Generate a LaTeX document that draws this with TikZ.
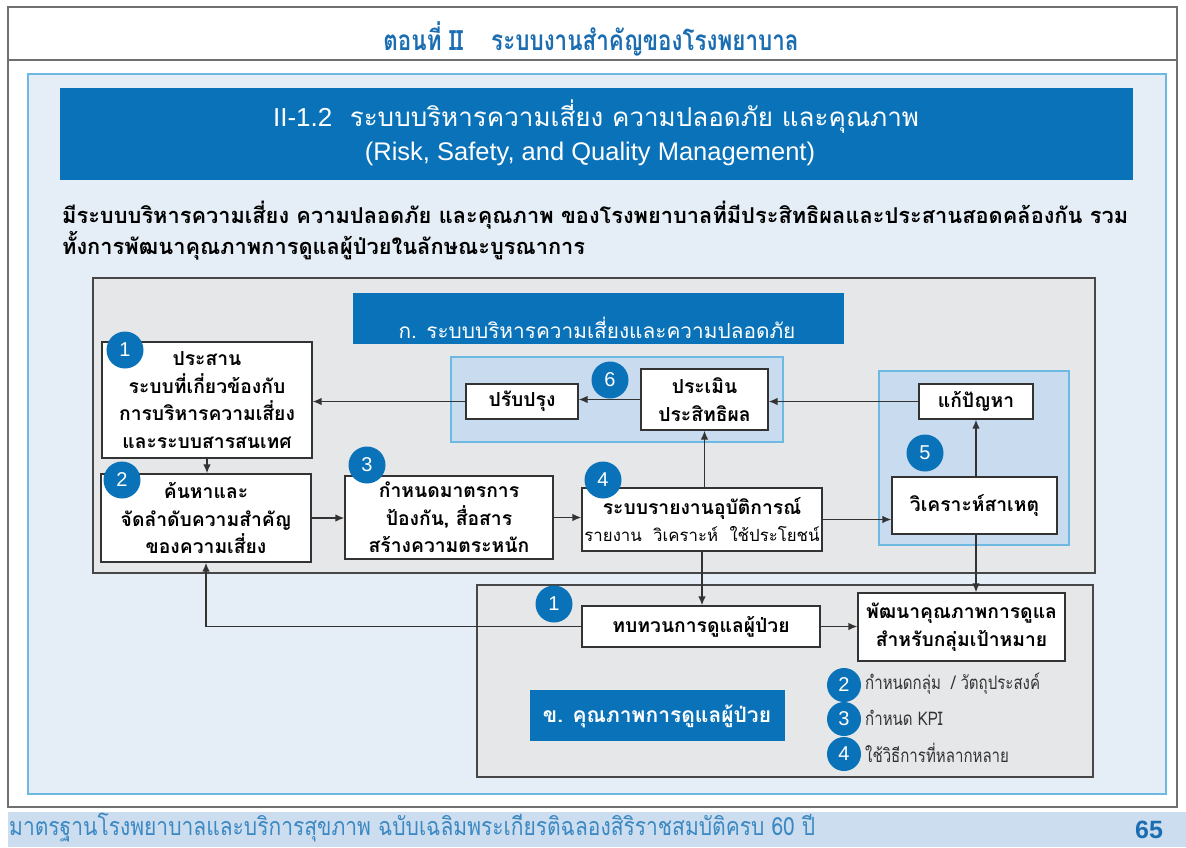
\documentclass[tikz,border=0pt]{standalone}
\usepackage{fontspec}
\setmainfont{Liberation Sans}
\newfontfamily\thai[Script=Thai]{Loma}
\newfontfamily\thaic[Script=Thai,FakeStretch=0.8]{Loma}
\newfontfamily\thaif[Script=Thai,FakeStretch=0.84]{Loma}
\usetikzlibrary{arrows.meta}
\definecolor{cblue}{HTML}{0A72B8}
\definecolor{panel}{HTML}{E5EEF7}
\definecolor{panelb}{HTML}{6DB9E2}
\definecolor{grayp}{HTML}{E6E7E9}
\definecolor{grpb}{HTML}{C9DBEF}
\definecolor{footb}{HTML}{CCDDEF}
\definecolor{hdr}{HTML}{1A6DB1}
\definecolor{ftxt}{HTML}{3B88C2}
\definecolor{ln}{HTML}{333333}
\begin{document}
\begin{tikzpicture}[x=1pt,y=-1pt,
  box/.style={draw=ln, line width=1.3pt, fill=white, inner sep=0pt, align=center,
    font=\thai\bfseries\fontsize{19.3}{27.5}\selectfont},
  num/.style={circle, fill=cblue, text=white, minimum size=37pt, inner sep=0pt,
    font=\fontsize{20}{20}\selectfont},
  smallnum/.style={num, minimum size=34pt},
  arr/.style={draw=ln, line width=1.4pt, -{Latex[length=9pt,width=7.5pt]}},
  graypanel/.style={draw=ln!90, line width=1.3pt, fill=grayp, inner sep=0pt},
  grp/.style={draw=panelb, line width=1.2pt, fill=grpb, inner sep=0pt},
  bluelabel/.style={fill=cblue, inner sep=0pt},
  wtext/.style={text=white, inner sep=0pt},
  itemtext/.style={anchor=west, inner sep=0pt, font=\thaic\fontsize{18.8}{20}\selectfont, text=ln}
]
\useasboundingbox (0,0) rectangle (1186,847);
% page frame
\node[draw=ln!70, line width=1.3pt, fill=white, minimum width=1169pt, minimum height=800pt, inner sep=0pt] (frame) at (592.5,407) {};
\coordinate (hl) at (8,60);
\coordinate (hr) at (1177,60);
\draw[ln!70, line width=1.3pt] (hl) -- (hr);
\node[text=hdr, inner sep=0pt, font=\thaic\bfseries\fontsize{28}{28}\selectfont] (header) at (591,39) {ตอนที่ II\quad ระบบงานสำคัญของโรงพยาบาล};
% light blue panel
\node[draw=panelb, line width=1.2pt, fill=panel, minimum width=1138pt, minimum height=720pt, inner sep=0pt] (panel) at (597,434) {};
% title
\node[bluelabel, minimum width=1073pt, minimum height=92pt] (title) at (596.5,134) {};
\node[wtext, font=\thai\fontsize{26}{26}\selectfont] (t1) at (596,117) {{\fontspec{Liberation Sans}II-1.2}\ \ ระบบบริหารความเสี่ยง ความปลอดภัย และคุณภาพ};
\node[wtext, font=\fontsize{25.5}{25.5}\selectfont] (t2) at (590,154) {(Risk, Safety, and Quality Management)};
% paragraph
\node[anchor=west, inner sep=0pt, font=\thai\bfseries\fontsize{21.8}{21.8}\selectfont, text=black] (p1) at (62,215) {มีระบบบริหารความเสี่ยง ความปลอดภัย และคุณภาพ ของโรงพยาบาลที่มีประสิทธิผลและประสานสอดคล้องกัน รวม};
\node[anchor=west, inner sep=0pt, font=\thai\bfseries\fontsize{21.8}{21.8}\selectfont, text=black] (p2) at (62,246) {ทั้งการพัฒนาคุณภาพการดูแลผู้ป่วยในลักษณะบูรณาการ};
% gray panel A
\node[graypanel, minimum width=1002pt, minimum height=295pt] (pa) at (594,425.5) {};
\node[bluelabel, minimum width=491pt, minimum height=51pt] (la) at (598.5,318.5) {};
\node[wtext, font=\thai\fontsize{20.8}{20.8}\selectfont] (lat) at (597,328) {ก. ระบบบริหารความเสี่ยงและความปลอดภัย};
% groups
\node[grp, minimum width=332pt, minimum height=85pt] (g6) at (617,399.5) {};
\node[grp, minimum width=190pt, minimum height=174pt] (g5) at (974,458) {};
% boxes
\node[box, minimum width=210pt, minimum height=116pt] (b1) at (207,400) {ประสาน\\ระบบที่เกี่ยวข้องกับ\\การบริหารความเสี่ยง\\และระบบสารสนเทศ};
\node[box, minimum width=210pt, minimum height=88pt] (b2) at (206,518) {ค้นหาและ\\จัดลำดับความสำคัญ\\ของความเสี่ยง};
\node[box, minimum width=208pt, minimum height=83pt] (b3) at (449,517.5) {กำหนดมาตรการ\\ป้องกัน, สื่อสาร\\สร้างความตระหนัก};
\node[box, minimum width=240pt, minimum height=63pt] (b4) at (702,519.5) {ระบบรายงานอุบัติการณ์\\{\mdseries\fontsize{16.8}{20}\selectfont รายงาน\ \ วิเคราะห์\ \ ใช้ประโยชน์}};
\node[box, minimum width=112pt, minimum height=35pt] (bimp) at (522,401.5) {ปรับปรุง};
\node[box, minimum width=127pt, minimum height=61pt] (beval) at (704.5,399.5) {ประเมิน\\ประสิทธิผล};
\node[box, minimum width=114pt, minimum height=35pt] (bfix) at (976,401.5) {แก้ปัญหา};
\node[box, minimum width=165pt, minimum height=57pt] (bcause) at (974.5,505.5) {วิเคราะห์สาเหตุ};
% gray panel B
\node[graypanel, minimum width=616pt, minimum height=192pt] (pb) at (785,681) {};
\node[box, minimum width=238pt, minimum height=41pt] (brev) at (701,626.5) {ทบทวนการดูแลผู้ป่วย};
\node[box, minimum width=207pt, minimum height=68pt] (bdev) at (961.5,627) {พัฒนาคุณภาพการดูแล\\สำหรับกลุ่มเป้าหมาย};
\node[bluelabel, minimum width=255pt, minimum height=51pt] (lb) at (657,715) {};
\node[wtext, font=\thai\bfseries\fontsize{21}{21}\selectfont] (lbt) at (657,716) {ข. คุณภาพการดูแลผู้ป่วย};
% numbers
\node[num] (n1) at (125,350) {1};
\node[num] (n2) at (122,480) {2};
\node[num] (n3) at (367,465) {3};
\node[num] (n4) at (603,480) {4};
\node[num] (n5) at (925,453) {5};
\node[num] (n6) at (610,380) {6};
\node[num] (m1) at (554,604) {1};
\node[smallnum] (m2) at (844,685) {2};
\node[smallnum] (m3) at (844,719) {3};
\node[smallnum] (m4) at (844,754) {4};
\node[itemtext] (i2) at (865,684) {กำหนดกลุ่ม\ \ / วัตถุประสงค์};
\node[itemtext] (i3) at (865,718) {กำหนด KPI};
\node[itemtext] (i4) at (865,753) {ใช้วิธีการที่หลากหลาย};
% arrows
\draw[arr] (bimp.west) -- (bimp.west -| b1.east);
\draw[arr] (beval.west) -- (beval.west -| bimp.east);
\draw[arr] (bfix.west) -- (bfix.west -| beval.east);
\draw[arr] (b1.south) -- (b1.south |- b2.north);
\draw[arr] (b2.east) -- (b2.east -| b3.west);
\draw[arr] (b3.east) -- (b3.east -| b4.west);
\draw[arr] (beval.south |- b4.north) -- (beval.south);
\draw[arr] (b4.east) -- (b4.east -| bcause.west);
\draw[arr] (bfix.south |- bcause.north) -- (bfix.south);
\draw[arr] (b4.south) -- (b4.south |- brev.north);
\draw[arr] (bfix.south |- bcause.south) -- (bfix.south |- bdev.north);
\draw[arr] (brev.west) -| (b2.south);
\draw[arr] (brev.east) -- (brev.east -| bdev.west);
% footer
\node[fill=footb, minimum width=1178pt, minimum height=35pt, inner sep=0pt] (foot) at (597,829.5) {};
\node[anchor=west, inner sep=0pt, text=ftxt, font=\thaif\fontsize{25}{25}\selectfont] (ft) at (9,827) {มาตรฐานโรงพยาบาลและบริการสุขภาพ ฉบับเฉลิมพระเกียรติฉลองสิริราชสมบัติครบ 60 ปี};
\node[inner sep=0pt, text=hdr, font=\bfseries\fontsize{25}{25}\selectfont] (pg) at (1149,830) {65};
\end{tikzpicture}
\end{document}
